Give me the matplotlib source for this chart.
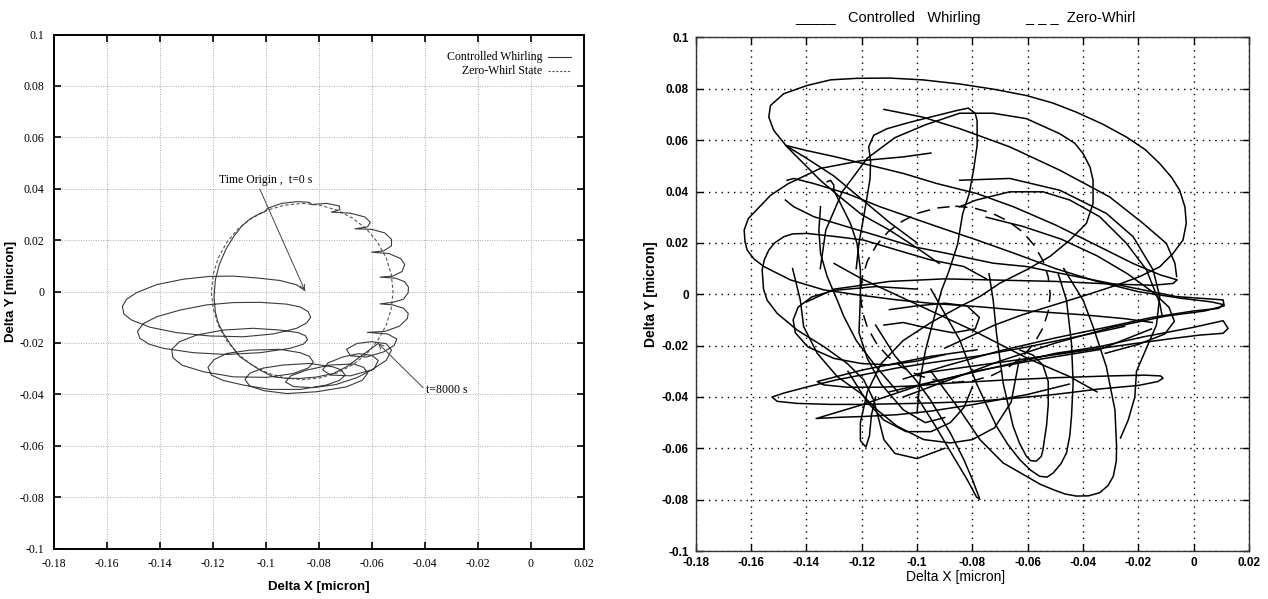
import numpy as np
import matplotlib
matplotlib.use("Agg")
import matplotlib.pyplot as plt

plt.rcParams['axes.unicode_minus'] = False

# ---------------- data ----------------
x_ticks = [-0.18, -0.16, -0.14, -0.12, -0.1, -0.08, -0.06, -0.04, -0.02, 0, 0.02]
y_ticks = [-0.1, -0.08, -0.06, -0.04, -0.02, 0, 0.02, 0.04, 0.06, 0.08, 0.1]
x_labels = ['-0.18', '-0.16', '-0.14', '-0.12', '-0.1', '-0.08', '-0.06', '-0.04', '-0.02', '0', '0.02']
y_labels = ['-0.1', '-0.08', '-0.06', '-0.04', '-0.02', '0', '0.02', '0.04', '0.06', '0.08', '0.1']

# zero-whirl state (same orbit in both runs)
zero_whirl = [(-0.0862, 0.0343), (-0.0795, 0.0336), (-0.0731, 0.0317), (-0.0671, 0.0285),
              (-0.0619, 0.0243), (-0.0577, 0.0191), (-0.0545, 0.0131), (-0.0526, 0.0067),
              (-0.0519, 0.0), (-0.0526, -0.0067), (-0.0545, -0.0131), (-0.0577, -0.0191),
              (-0.0619, -0.0243), (-0.0671, -0.0285), (-0.0731, -0.0317), (-0.0795, -0.0336),
              (-0.0862, -0.0343), (-0.0929, -0.0336), (-0.0993, -0.0317), (-0.1053, -0.0285),
              (-0.1105, -0.0243), (-0.1147, -0.0191), (-0.1179, -0.0131), (-0.1198, -0.0067),
              (-0.1205, 0.0), (-0.1198, 0.0067), (-0.1179, 0.0131), (-0.1147, 0.0191),
              (-0.1105, 0.0243), (-0.1053, 0.0285), (-0.0993, 0.0317), (-0.0929, 0.0336),
              (-0.0862, 0.0343)]

# left run: controlled whirling, t = 0 ... 8000 s
whirl_left = [
    (-0.0852, 0.0004), (-0.0883, 0.0026), (-0.0946, 0.0043), (-0.1034, 0.0053), (-0.1122, 0.0060),
    (-0.121, 0.0059), (-0.1311, 0.0048), (-0.1411, 0.0027), (-0.1487, -0.0004), (-0.1525, -0.0030),
    (-0.1541, -0.0058), (-0.1535, -0.0088), (-0.1506, -0.0111), (-0.1436, -0.0139), (-0.1336, -0.016),
    (-0.121, -0.0173), (-0.1084, -0.0176), (-0.0971, -0.0165), (-0.0883, -0.0143), (-0.0845, -0.0122),
    (-0.0830, -0.0100), (-0.0840, -0.0078),
    (-0.0870, -0.0060), (-0.0921, -0.0049), (-0.1021, -0.0042), (-0.1122, -0.0043), (-0.1223, -0.0052),
    (-0.1323, -0.0072), (-0.1411, -0.0098), (-0.1462, -0.0125), (-0.1484, -0.0155), (-0.1475, -0.0182),
    (-0.1440, -0.0205), (-0.1386, -0.0221), (-0.1273, -0.0238), (-0.1147, -0.0245), (-0.1021, -0.0238),
    (-0.0908, -0.0221), (-0.0858, -0.0205), (-0.0842, -0.0188), (-0.0850, -0.0172),
    (-0.0877, -0.0160), (-0.0946, -0.015), (-0.1047, -0.0143), (-0.116, -0.015), (-0.126, -0.0169),
    (-0.1325, -0.0195), (-0.1355, -0.0225), (-0.1350, -0.0258), (-0.1315, -0.0287), (-0.1235, -0.0312),
    (-0.1122, -0.0332), (-0.0996, -0.0334), (-0.0896, -0.0319), (-0.0840, -0.0298), (-0.0820, -0.0275),
    (-0.0835, -0.0252),
    (-0.0870, -0.0238), (-0.0946, -0.0225), (-0.1059, -0.0228), (-0.1147, -0.0241), (-0.1195, -0.0265),
    (-0.1218, -0.0295), (-0.1205, -0.0325), (-0.1160, -0.0346), (-0.1084, -0.0364), (-0.0984, -0.0381),
    (-0.087, -0.0381), (-0.0771, -0.0364), (-0.0720, -0.0345), (-0.0700, -0.0325), (-0.0715, -0.0305),
    (-0.0746, -0.0293), (-0.0834, -0.028), (-0.0933, -0.0286), (-0.1010, -0.0298), (-0.1060, -0.0318),
    (-0.1078, -0.0342), (-0.1060, -0.0368), (-0.1005, -0.0386), (-0.0921, -0.0397), (-0.0808, -0.039),
    (-0.0695, -0.0371), (-0.0635, -0.0345), (-0.0615, -0.0318), (-0.0630, -0.0295),
    (-0.0669, -0.0282), (-0.0758, -0.0286), (-0.0846, -0.0306), (-0.0905, -0.0328), (-0.0925, -0.0352),
    (-0.0895, -0.0370), (-0.0820, -0.0374), (-0.0735, -0.0362), (-0.0655, -0.0335), (-0.0590, -0.0300),
    (-0.0575, -0.0268), (-0.0600, -0.0248),
    (-0.0650, -0.0242), (-0.0710, -0.0255), (-0.0765, -0.0278), (-0.0785, -0.0305), (-0.0755, -0.0325),
    (-0.0680, -0.0328), (-0.0600, -0.0305), (-0.0545, -0.0268), (-0.0525, -0.0228), (-0.0545, -0.0203),
    (-0.0600, -0.0195), (-0.0655, -0.0202), (-0.0695, -0.0225), (-0.0680, -0.0250), (-0.0620, -0.0255),
    (-0.0555, -0.0235), (-0.0515, -0.0210), (-0.0505, -0.0185), (-0.0540, -0.0165), (-0.0616, -0.0159),
    (-0.0550, -0.0155), (-0.0495, -0.0135), (-0.0465, -0.0105), (-0.0462, -0.0085), (-0.0480, -0.0065),
    (-0.0520, -0.0052), (-0.0568, -0.0048), (-0.0520, -0.0042), (-0.0480, -0.0030), (-0.0462, -0.0005),
    (-0.0461, 0.0017), (-0.0475, 0.0038), (-0.0510, 0.0052), (-0.0568, 0.0056), (-0.0520, 0.0060),
    (-0.0485, 0.0078), (-0.0475, 0.0105), (-0.0490, 0.0128), (-0.0535, 0.0148), (-0.0600, 0.0153),
    (-0.0555, 0.0158), (-0.0525, 0.0178), (-0.0525, 0.0203), (-0.0550, 0.0228), (-0.0600, 0.0242),
    (-0.0663, 0.0244), (-0.0615, 0.0252), (-0.0605, 0.0270), (-0.0625, 0.0290), (-0.0680, 0.0305),
    (-0.0752, 0.0309), (-0.0720, 0.0318), (-0.0722, 0.0333), (-0.0770, 0.0343), (-0.0810, 0.0340),
    (-0.0825, 0.0338), (-0.0835, 0.0347), (-0.0880, 0.0350), (-0.0940, 0.0343), (-0.0990, 0.0325),
    (-0.1005, 0.0310), (-0.1020, 0.0305), (-0.1060, 0.0282), (-0.1090, 0.0255), (-0.1120, 0.0215),
    (-0.1150, 0.0165), (-0.1175, 0.0105), (-0.1190, 0.0045), (-0.1195, -0.0020), (-0.1190, -0.0080),
    (-0.1180, -0.0120), (-0.1160, -0.0163), (-0.1130, -0.0210), (-0.1097, -0.0254), (-0.1060, -0.0280),
    (-0.1021, -0.0306), (-0.0971, -0.0332), (-0.0920, -0.0338), (-0.0870, -0.0338), (-0.0810, -0.0333),
    (-0.0744, -0.0319), (-0.0690, -0.0290), (-0.0644, -0.0254), (-0.0575, -0.0202)]

t0_point = (-0.0852, 0.0004)
t0_text = (-0.1175, 0.041)
tend_point = (-0.0575, -0.0202)
tend_text = (-0.0395, -0.0385)

# right run: controlled whirling, traced stroke by stroke
big_loop = [(-0.092, 0.012), (-0.100, 0.018), (-0.110, 0.025), (-0.120, 0.031), (-0.128, 0.038),
            (-0.135, 0.0444), (-0.141, 0.0509), (-0.147, 0.0574), (-0.1518, 0.0638), (-0.1536, 0.069),
            (-0.153, 0.0735), (-0.1482, 0.0781), (-0.1398, 0.0813), (-0.1313, 0.0835), (-0.1217, 0.0841),
            (-0.110, 0.0842), (-0.098, 0.0835), (-0.0846, 0.0819), (-0.072, 0.0798), (-0.0605, 0.0774),
            (-0.051, 0.0745), (-0.0424, 0.0709), (-0.033, 0.0663), (-0.0243, 0.0612), (-0.0175, 0.0563),
            (-0.0123, 0.0509), (-0.008, 0.0455), (-0.0051, 0.0405), (-0.0032, 0.034), (-0.0027, 0.0276),
            (-0.0039, 0.0211), (-0.0075, 0.0159), (-0.0123, 0.0107), (-0.0195, 0.0069), (-0.028, 0.0035),
            (-0.038, 0.0), (-0.050, -0.004), (-0.062, -0.008), (-0.072, -0.012), (-0.082, -0.017),
            (-0.090, -0.021)]
mid_loop = [(-0.122, 0.010), (-0.121, 0.020), (-0.119, 0.032), (-0.117, 0.045), (-0.1168, 0.052),
            (-0.1175, 0.0574), (-0.1157, 0.0619), (-0.1108, 0.0645), (-0.1036, 0.0667), (-0.0952, 0.069),
            (-0.0855, 0.0716), (-0.0815, 0.0725), (-0.0790, 0.0705), (-0.0783, 0.0675), (-0.0783, 0.058),
            (-0.0795, 0.049), (-0.0812, 0.039), (-0.0835, 0.0315), (-0.0854, 0.0193), (-0.0885, 0.009),
            (-0.0912, 0.0014), (-0.0942, -0.0105), (-0.097, -0.022), (-0.099, -0.034), (-0.100, -0.046)]
oval_loop = [(-0.135, 0.010), (-0.133, 0.025), (-0.127, 0.040), (-0.118, 0.053), (-0.108, 0.061),
             (-0.097, 0.066), (-0.0846, 0.0705), (-0.0725, 0.0705), (-0.0605, 0.0684), (-0.0484, 0.0625),
             (-0.0430, 0.0588), (-0.040, 0.0548), (-0.0375, 0.0495), (-0.0364, 0.0444), (-0.0364, 0.0354),
             (-0.0388, 0.0276), (-0.0448, 0.0211), (-0.052, 0.0147), (-0.0605, 0.0095), (-0.0701, 0.0043),
             (-0.0773, -0.0009), (-0.0846, -0.0048), (-0.095, -0.011), (-0.105, -0.018), (-0.113, -0.027),
             (-0.118, -0.038), (-0.1205, -0.050), (-0.1205, -0.057), (-0.1185, -0.0595), (-0.1172, -0.055),
             (-0.1165, -0.047), (-0.115, -0.040)]
left_loop = [(-0.095, 0.055), (-0.105, 0.0535), (-0.1204, 0.052), (-0.135, 0.049), (-0.1467, 0.043),
             (-0.1530, 0.0385), (-0.157, 0.034), (-0.1610, 0.0295), (-0.1625, 0.025), (-0.1622, 0.0205),
             (-0.1614, 0.0172), (-0.1590, 0.0138), (-0.1554, 0.0108), (-0.1458, 0.0056), (-0.1337, 0.0017),
             (-0.1217, -0.0002), (-0.1072, -0.0022), (-0.0952, -0.0035), (-0.0783, -0.0048), (-0.060, -0.0065),
             (-0.040, -0.008), (-0.025, -0.0095), (-0.015, -0.011)]
side_loop = [(-0.075, 0.006), (-0.0831, 0.0108), (-0.0952, 0.0134), (-0.1072, 0.0172), (-0.1193, 0.0211),
             (-0.1289, 0.0224), (-0.1398, 0.0237), (-0.1450, 0.0235), (-0.1482, 0.0224), (-0.1515, 0.0200),
             (-0.1536, 0.0172), (-0.1552, 0.0135), (-0.156, 0.0095), (-0.1555, 0.002), (-0.1542, -0.0023),
             (-0.1506, -0.0074), (-0.1434, -0.0139), (-0.1337, -0.0204), (-0.1253, -0.0269), (-0.1193, -0.0333),
             (-0.1157, -0.0411), (-0.1138, -0.0489), (-0.112, -0.0566), (-0.108, -0.062), (-0.100, -0.064),
             (-0.090, -0.060)]
nest_left = [(-0.100, 0.002), (-0.115, 0.003), (-0.130, 0.0015), (-0.138, -0.001), (-0.1430, -0.0050),
             (-0.1448, -0.0100), (-0.1440, -0.0150), (-0.1395, -0.0205), (-0.1300, -0.0250), (-0.1200, -0.0270),
             (-0.1100, -0.0275), (-0.1000, -0.0260), (-0.0900, -0.0235)]
tip_top = [(-0.10, 0.020), (-0.11, 0.028), (-0.12, 0.037), (-0.13, 0.046), (-0.14, 0.053),
           (-0.1476, 0.058), (-0.14, 0.056), (-0.129, 0.0534), (-0.1169, 0.0502), (-0.1048, 0.047),
           (-0.0928, 0.0431), (-0.0783, 0.0392), (-0.065, 0.034), (-0.05, 0.027), (-0.035, 0.019),
           (-0.022, 0.012), (-0.012, 0.0075), (-0.006, 0.0056), (-0.0075, 0.0042), (-0.015, 0.0035),
           (-0.03, 0.004), (-0.05, 0.005), (-0.07, 0.0055), (-0.09, 0.006), (-0.11, 0.005),
           (-0.13, 0.002), (-0.14, -0.003)]
diag_top = [(-0.112, 0.072), (-0.098, 0.069), (-0.0846, 0.0645), (-0.0665, 0.0574), (-0.0484, 0.0483),
            (-0.0304, 0.0379), (-0.0183, 0.0276), (-0.0099, 0.0198), (-0.0068, 0.012), (-0.0062, 0.0069)]
diag_mid = [(-0.075, 0.030), (-0.062, 0.0265), (-0.048, 0.0215), (-0.035, 0.0150), (-0.024, 0.0080),
            (-0.0150, 0.0010), (-0.0090, -0.0050), (-0.0070, -0.0105), (-0.0105, -0.0155), (-0.0200, -0.0195),
            (-0.0320, -0.0230)]
tip_right = [(-0.147, 0.0444), (-0.1446, 0.0451), (-0.1373, 0.0431), (-0.1253, 0.0392), (-0.1132, 0.034),
             (-0.1012, 0.0295), (-0.0891, 0.025), (-0.0783, 0.0211), (-0.065, 0.016), (-0.05, 0.010),
             (-0.035, 0.005), (-0.02, 0.001), (-0.005, -0.0015), (0.0065, -0.003), (0.0106, -0.0040),
             (0.009, -0.0055), (0.0, -0.0065), (-0.015, -0.009), (-0.03, -0.0125), (-0.05, -0.017),
             (-0.07, -0.022), (-0.09, -0.028), (-0.105, -0.033)]
tip_right2 = [(-0.1476, 0.0367), (-0.1446, 0.0341), (-0.1373, 0.0302), (-0.1253, 0.0263), (-0.1132, 0.0224),
              (-0.1012, 0.0185), (-0.0891, 0.0159), (-0.0783, 0.0134), (-0.0725, 0.0121), (-0.0605, 0.0108),
              (-0.0424, 0.0069), (-0.0243, 0.003), (-0.0063, -0.0009), (0.0106, -0.0022), (0.011, -0.0045),
              (0.004, -0.0065), (-0.01, -0.0085), (-0.03, -0.013), (-0.05, -0.019), (-0.07, -0.026),
              (-0.09, -0.034), (-0.105, -0.040)]
tip_low = [(-0.11, -0.038), (-0.09, -0.033), (-0.07, -0.028), (-0.05, -0.023), (-0.034, -0.0204),
           (-0.0183, -0.0166), (-0.0002, -0.0129), (0.0106, -0.0103), (0.0124, -0.0133), (0.0106, -0.0152),
           (0.0022, -0.0159), (-0.0075, -0.0172), (-0.02, -0.019), (-0.04, -0.022), (-0.06, -0.025),
           (-0.08, -0.028), (-0.1, -0.031)]
long_loop = [(-0.0783, -0.0216), (-0.0952, -0.0242), (-0.1072, -0.0268), (-0.1193, -0.0294), (-0.1289, -0.032),
             (-0.1361, -0.034), (-0.1337, -0.0353), (-0.1253, -0.0362), (-0.1132, -0.0362), (-0.1012, -0.0357),
             (-0.088, -0.0346), (-0.07, -0.0335), (-0.05, -0.0325), (-0.03, -0.0318), (-0.018, -0.0315),
             (-0.012, -0.0318), (-0.0111, -0.0327), (-0.013, -0.034), (-0.02, -0.0355), (-0.035, -0.037),
             (-0.05, -0.039), (-0.065, -0.0405), (-0.08, -0.0418), (-0.1, -0.0425), (-0.12, -0.0429),
             (-0.1313, -0.0429), (-0.1434, -0.0425), (-0.1506, -0.0417), (-0.1524, -0.040), (-0.1482, -0.0385),
             (-0.1398, -0.0361), (-0.129, -0.0333), (-0.1193, -0.0313), (-0.1072, -0.0287), (-0.0952, -0.0267),
             (-0.0783, -0.0241), (-0.06, -0.0205), (-0.04, -0.016), (-0.025, -0.0125)]
low_tip = [(-0.0153, -0.0135), (-0.0343, -0.0216), (-0.0562, -0.0254), (-0.0781, -0.0298), (-0.1, -0.0358),
           (-0.1204, -0.0432), (-0.1365, -0.0484), (-0.1277, -0.0479), (-0.1193, -0.0476), (-0.1072, -0.0469),
           (-0.095, -0.0455), (-0.08, -0.043), (-0.06, -0.039), (-0.045, -0.035)]
arc_right1 = [(-0.0846, 0.0444), (-0.0665, 0.0451), (-0.0484, 0.0405), (-0.0316, 0.0315), (-0.0219, 0.0224),
              (-0.0147, 0.0095), (-0.0123, -0.0009), (-0.0135, -0.012), (-0.0175, -0.022), (-0.0207, -0.030),
              (-0.0213, -0.040), (-0.0237, -0.049), (-0.0265, -0.056)]
arc_right2 = [(-0.0846, 0.0341), (-0.0786, 0.0367), (-0.0665, 0.0399), (-0.0545, 0.0399), (-0.0448, 0.0367),
              (-0.034, 0.0302), (-0.0243, 0.0198), (-0.0171, 0.0095), (-0.0123, -0.0035), (-0.0115, -0.008)]
u_small = [(-0.0629, -0.0217), (-0.0581, -0.0237), (-0.0545, -0.0276), (-0.0526, -0.034), (-0.0526, -0.0431),
           (-0.0532, -0.051), (-0.0539, -0.056), (-0.0545, -0.0605), (-0.0551, -0.0631), (-0.0569, -0.065),
           (-0.059, -0.0648), (-0.0605, -0.0631), (-0.063, -0.058), (-0.0653, -0.0514), (-0.0689, -0.0346),
           (-0.0713, -0.0152), (-0.0725, -0.0023), (-0.074, 0.008)]
u_mid = [(-0.095, 0.002), (-0.0846, -0.0178), (-0.0786, -0.0346), (-0.0713, -0.0514), (-0.0672, -0.0585),
         (-0.0629, -0.0644), (-0.059, -0.0685), (-0.0557, -0.0709), (-0.053, -0.0712), (-0.0508, -0.0696),
         (-0.048, -0.066), (-0.046, -0.0618), (-0.0448, -0.055), (-0.0442, -0.0476), (-0.0436, -0.0346),
         (-0.0442, -0.0191), (-0.046, -0.0023), (-0.049, 0.008)]
u_big = [(-0.095, -0.030), (-0.0846, -0.045), (-0.0773, -0.0566), (-0.0689, -0.0657), (-0.0605, -0.0709),
         (-0.0555, -0.074), (-0.0508, -0.0761), (-0.0465, -0.0778), (-0.0424, -0.0786), (-0.038, -0.0785),
         (-0.034, -0.0773), (-0.031, -0.0745), (-0.0291, -0.0709), (-0.028, -0.065), (-0.0279, -0.0592),
         (-0.0285, -0.045), (-0.0316, -0.0282), (-0.0364, -0.0126), (-0.040, -0.0023), (-0.047, 0.010)]
big_under = [(-0.145, 0.01), (-0.1422, -0.0023), (-0.141, -0.0126), (-0.1361, -0.023), (-0.1289, -0.032),
             (-0.1205, -0.0385), (-0.1145, -0.045), (-0.1072, -0.0514), (-0.0976, -0.0566), (-0.0879, -0.0579),
             (-0.08, -0.0566), (-0.072, -0.052), (-0.066, -0.042), (-0.063, -0.025)]
low_arc = [(-0.125, -0.030), (-0.118, -0.042), (-0.112, -0.049), (-0.104, -0.0535), (-0.095, -0.0535),
           (-0.088, -0.0500), (-0.083, -0.0440), (-0.080, -0.0360)]
col_a = [(-0.1325, 0.0438), (-0.1313, 0.0444), (-0.1301, 0.0425), (-0.1301, 0.0405), (-0.1277, 0.0354),
         (-0.1241, 0.0276), (-0.1217, 0.0198), (-0.1205, 0.0095), (-0.1205, -0.0009), (-0.121, -0.015),
         (-0.118, -0.025), (-0.113, -0.035), (-0.105, -0.045), (-0.097, -0.050), (-0.090, -0.048)]
col_b = [(-0.1349, 0.0341), (-0.1355, 0.025), (-0.1349, 0.0159), (-0.1325, 0.0069), (-0.1289, -0.0022),
         (-0.1265, -0.0086), (-0.122, -0.018), (-0.115, -0.028), (-0.107, -0.038)]
center_oval = [(-0.110, -0.006), (-0.100, -0.0045), (-0.090, -0.0035), (-0.082, -0.0045), (-0.0775, -0.009),
               (-0.079, -0.0135), (-0.087, -0.015), (-0.097, -0.013), (-0.105, -0.011), (-0.112, -0.012)]
diag_c = [(-0.130, 0.012), (-0.120, 0.006), (-0.100, -0.004), (-0.080, -0.014), (-0.060, -0.025),
          (-0.045, -0.032), (-0.035, -0.038)]
end_leg = [(-0.1, -0.040), (-0.093, -0.052), (-0.087, -0.063), (-0.082, -0.072), (-0.0785, -0.079),
           (-0.0773, -0.0799), (-0.08, -0.0722), (-0.0831, -0.0644), (-0.088, -0.054), (-0.0952, -0.0411),
           (-0.1, -0.034), (-0.108, -0.024), (-0.115, -0.012)]

right_strokes = [big_loop, mid_loop, oval_loop, left_loop, side_loop, nest_left, tip_top, diag_top,
                 diag_mid, tip_right, tip_right2, tip_low, long_loop, low_tip, arc_right1, arc_right2,
                 u_small, u_mid, u_big, big_under, low_arc, col_a, col_b, center_oval, diag_c, end_leg]

# ---------------- figure ----------------
fig = plt.figure(figsize=(12.68, 5.99), dpi=100)

serif = ['Liberation Serif', 'DejaVu Serif']
sans = ['Liberation Sans', 'DejaVu Sans']

# ---- left panel ----
ax1 = fig.add_axes([0.0424, 0.0843, 0.4178, 0.858])
zw = np.array(zero_whirl)
wl = np.array(whirl_left)
ax1.plot(zw[:, 0], zw[:, 1], color='#555555', lw=0.8, dashes=(3, 2))
ax1.plot(wl[:, 0], wl[:, 1], color='#3a3a3a', lw=0.8)

ax1.set_xlim(-0.18, 0.02)
ax1.set_ylim(-0.1, 0.1)
ax1.set_xticks(x_ticks)
ax1.set_yticks(y_ticks)
ax1.set_xticklabels(x_labels, family=serif, fontsize=8.5)
ax1.set_yticklabels(y_labels, family=serif, fontsize=8.5)
ax1.tick_params(direction='in', length=5, width=1.2, top=True, right=True, pad=7)
ax1.grid(True, color='#aaaaaa', linestyle=(0, (1, 1.5)), lw=0.7)
for sp in ax1.spines.values():
    sp.set_linewidth(1.4)
ax1.set_xlabel('Delta X [micron]', family=sans, fontweight='bold', fontsize=9.5, labelpad=8)
ax1.set_ylabel('Delta Y [micron]', family=sans, fontweight='bold', fontsize=9.5, labelpad=2)

ax1.annotate('Time Origin ,  t=0 s', xy=t0_point, xytext=t0_text, family=serif, fontsize=8.5,
             ha='left', va='bottom',
             arrowprops=dict(arrowstyle='->', color='#444444', lw=0.7, relpos=(0.42, 0.0),
                             shrinkA=0, shrinkB=0))
ax1.annotate('t=8000 s', xy=tend_point, xytext=tend_text, family=serif, fontsize=8.5,
             ha='left', va='center',
             arrowprops=dict(arrowstyle='->', color='#444444', lw=0.7, relpos=(0.0, 0.5),
                             shrinkA=0, shrinkB=0))

# gnuplot-like key
ax1.text(0.922, 0.956, 'Controlled Whirling', transform=ax1.transAxes, ha='right', va='center',
         family=serif, fontsize=8.5)
ax1.text(0.922, 0.929, 'Zero-Whirl State', transform=ax1.transAxes, ha='right', va='center',
         family=serif, fontsize=8.5)
ax1.plot([0.933, 0.976], [0.956, 0.956], transform=ax1.transAxes, color='#333333', lw=0.8)
ax1.plot([0.933, 0.976], [0.929, 0.929], transform=ax1.transAxes, color='#555555', lw=0.8, dashes=(2, 1.5))

# ---- right panel ----
ax2 = fig.add_axes([0.5487, 0.0801, 0.4364, 0.8573])
for st in right_strokes:
    a = np.array(st)
    ax2.plot(a[:, 0], a[:, 1], color='black', lw=1.1, solid_joinstyle='round')
ax2.plot(zw[:, 0], zw[:, 1], color='black', lw=1.1, dashes=(8, 5))

ax2.set_xlim(-0.18, 0.02)
ax2.set_ylim(-0.1, 0.1)
ax2.set_xticks(x_ticks)
ax2.set_yticks(y_ticks)
ax2.set_xticklabels(x_labels, family=sans, fontsize=8.5, fontweight='bold')
ax2.set_yticklabels(y_labels, family=sans, fontsize=8.5, fontweight='bold')
ax2.tick_params(axis='x', direction='in', length=5, width=1.0, top=True, pad=4)
ax2.tick_params(axis='y', direction='in', length=5, width=1.0, right=True, pad=5)
ax2.grid(True, color='black', linestyle=(0, (1, 3.5)), lw=1.0)
for sp in ax2.spines.values():
    sp.set_linewidth(1.0)
    sp.set_color('#333333')
ax2.set_xlabel('Delta X [micron]', family=sans, fontsize=10, labelpad=2)
ax2.xaxis.set_label_coords(0.469, -0.036)
ax2.set_ylabel('Delta Y [micron]', family=sans, fontweight='bold', fontsize=10, labelpad=3)
fig.text(965 / 1268, 1 - 18 / 599, '_____   Controlled   Whirling           _ _ _  Zero-Whirl',
         family=sans, fontsize=10.5, ha='center', va='center')

fig.savefig('out.png', dpi=100)
